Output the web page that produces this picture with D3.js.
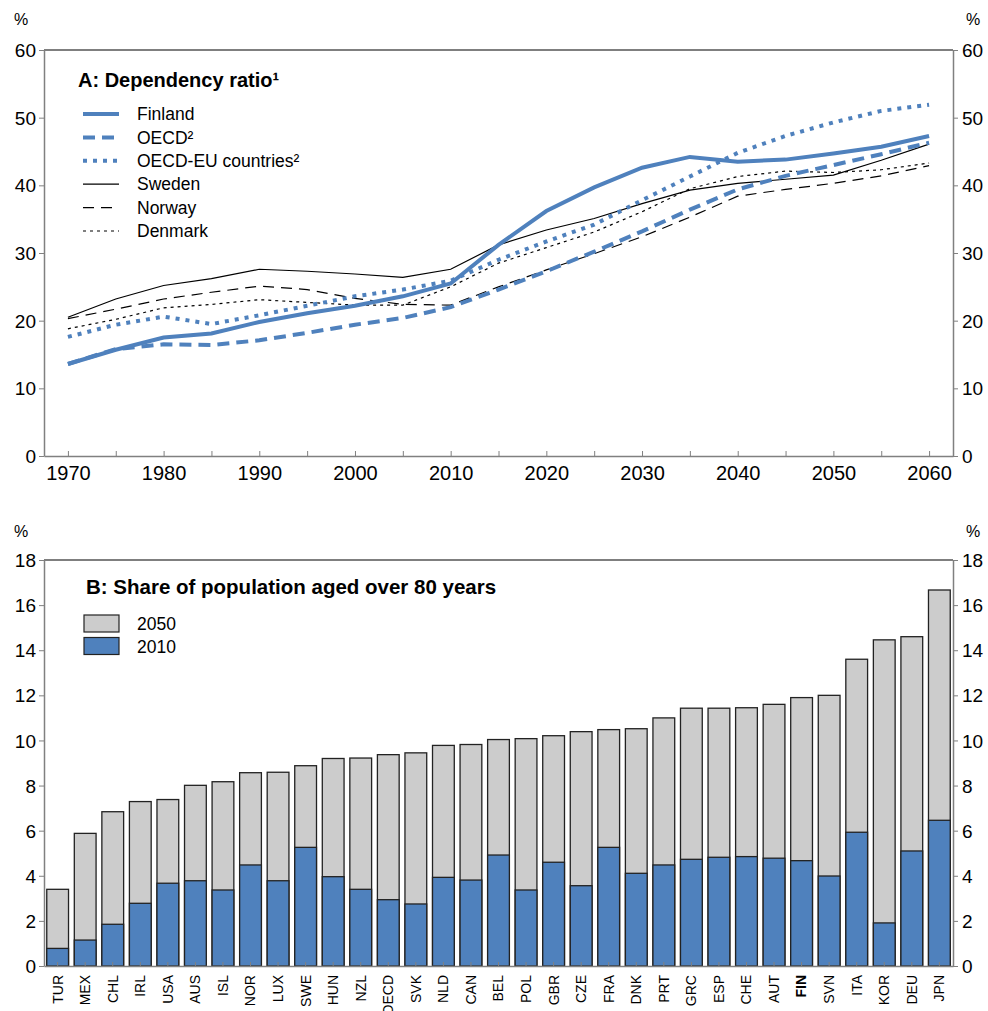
<!DOCTYPE html>
<meta charset="utf-8">
<style>
body { margin: 0; background: #fff; }
svg { font-family: "Liberation Sans", Arial, sans-serif; }
.axis path { stroke: #808080; stroke-width: 1.5px; }
.axis line { stroke: #808080; }
.axis text { fill: #000; }
</style>
<svg width="988" height="1011"></svg>
<script src="https://d3js.org/d3.v7.min.js"></script>
<script>
// panel A data: dependency ratio, every 5 years
var years = [1970, 1975, 1980, 1985, 1990, 1995, 2000, 2005, 2010, 2015, 2020, 2025, 2030, 2035, 2040, 2045, 2050, 2055, 2060];
var finland = [13.6, 15.7, 17.5, 18.1, 19.8, 21.1, 22.2, 23.6, 25.5, 31.2, 36.2, 39.7, 42.6, 44.2, 43.5, 43.8, 44.7, 45.7, 47.3];
var oecd = [13.6, 15.8, 16.5, 16.4, 17.1, 18.2, 19.4, 20.4, 22.0, 24.6, 27.3, 30.2, 33.2, 36.4, 39.4, 41.4, 43.0, 44.6, 46.3];
var oecdEu = [17.6, 19.4, 20.6, 19.5, 20.8, 22.2, 23.6, 24.6, 25.9, 29.0, 31.7, 34.2, 37.8, 41.3, 44.8, 47.3, 49.3, 51.0, 51.9];
var sweden = [20.5, 23.2, 25.2, 26.2, 27.6, 27.3, 26.9, 26.4, 27.6, 31.2, 33.4, 35.1, 37.3, 39.3, 40.3, 40.9, 41.5, 43.7, 46.1];
var norway = [20.3, 21.7, 23.2, 24.2, 25.1, 24.6, 23.3, 22.4, 22.3, 25.0, 27.5, 29.9, 32.4, 35.3, 38.4, 39.4, 40.3, 41.4, 42.9];
var denmark = [18.8, 20.2, 21.9, 22.4, 23.1, 22.7, 22.3, 22.3, 25.0, 28.5, 30.8, 33.1, 36.1, 39.5, 41.3, 42.1, 41.9, 42.3, 43.3];

// panel B data: share of population aged over 80
var countries = ["TUR", "MEX", "CHL", "IRL", "USA", "AUS", "ISL", "NOR", "LUX", "SWE", "HUN", "NZL", "OECD", "SVK", "NLD", "CAN", "BEL", "POL", "GBR", "CZE", "FRA", "DNK", "PRT", "GRC", "ESP", "CHE", "AUT", "FIN", "SVN", "ITA", "KOR", "DEU", "JPN"];
var share2050 = [3.4, 5.88, 6.84, 7.29, 7.38, 8.01, 8.17, 8.57, 8.59, 8.88, 9.2, 9.22, 9.37, 9.45, 9.78, 9.82, 10.04, 10.08, 10.21, 10.39, 10.48, 10.52, 11.0, 11.43, 11.43, 11.45, 11.6, 11.9, 12.0, 13.6, 14.46, 14.6, 16.67];
var share2010 = [0.78, 1.15, 1.85, 2.78, 3.67, 3.78, 3.37, 4.48, 3.78, 5.26, 3.96, 3.4, 2.94, 2.75, 3.93, 3.81, 4.92, 3.37, 4.6, 3.56, 5.26, 4.11, 4.48, 4.73, 4.82, 4.85, 4.78, 4.67, 3.99, 5.93, 1.91, 5.1, 6.46];

var blue = "#4f81bd", grey = "#cccccc";
var svg = d3.select("svg");

var seriesA = [
  {name: "Finland", values: finland, color: blue, width: 4, dash: null},
  {name: "OECD²", values: oecd, color: blue, width: 4, dash: "12,7"},
  {name: "OECD-EU countries²", values: oecdEu, color: blue, width: 4, dash: "4,6"},
  {name: "Sweden", values: sweden, color: "#000", width: 1.2, dash: null},
  {name: "Norway", values: norway, color: "#000", width: 1.2, dash: "11,7"},
  {name: "Denmark", values: denmark, color: "#000", width: 1.2, dash: "3,4"}
];

var left = 44, right = 953;

// ---------- panel A ----------
var aTop = 50, aBottom = 456;
var x = d3.scaleLinear().domain([1967.5, 2062.5]).range([left, right]);
var yA = d3.scaleLinear().domain([0, 60]).range([aBottom, aTop]);

var gA = svg.append("g");
gA.append("line").attr("x1", left).attr("x2", right).attr("y1", aTop).attr("y2", aTop)
    .attr("stroke", "#000").attr("stroke-width", 1.2);

gA.append("g").attr("class", "axis").attr("transform", "translate(0," + aBottom + ")")
    .call(d3.axisBottom(x).tickValues(d3.range(1970, 2061, 5)).tickSizeInner(-5).tickSizeOuter(0)
      .tickFormat(function(d) { return d % 10 === 0 ? d : ""; }))
    .call(function(g) { g.selectAll("text").attr("dy", null).attr("y", 24).style("font-size", "20px"); });

gA.append("g").attr("class", "axis").attr("transform", "translate(" + left + ",0)")
    .call(d3.axisLeft(yA).ticks(6).tickSizeInner(5).tickSizeOuter(0))
    .call(function(g) { g.selectAll("text").attr("x", -8).attr("dy", "0.35em").style("font-size", "19px"); });
gA.append("g").attr("class", "axis").attr("transform", "translate(" + right + ",0)")
    .call(d3.axisRight(yA).ticks(6).tickSizeInner(5).tickSizeOuter(0))
    .call(function(g) { g.selectAll("text").attr("x", 9).attr("dy", "0.35em").style("font-size", "19px"); });

svg.append("text").attr("x", 14).attr("y", 25).text("%").style("font-size", "16px");
svg.append("text").attr("x", 966).attr("y", 25).text("%").style("font-size", "16px");

var line = d3.line().x(function(d, i) { return x(years[i]); }).y(function(d) { return yA(d); });

gA.selectAll(".series").data(seriesA.slice().reverse()).enter().append("path")
    .attr("class", "series")
    .attr("d", function(d) { return line(d.values); })
    .attr("fill", "none")
    .attr("stroke", function(d) { return d.color; })
    .attr("stroke-width", function(d) { return d.width; })
    .attr("stroke-dasharray", function(d) { return d.dash; });

gA.append("text").attr("x", 78).attr("y", 87).text("A: Dependency ratio¹")
    .style("font-size", "20px").style("font-weight", "bold");

var legA = gA.selectAll(".legA").data(seriesA).enter().append("g")
    .attr("transform", function(d, i) { return "translate(0," + (114 + i * 23.4) + ")"; });
legA.append("line").attr("x1", 83).attr("x2", 119)
    .attr("stroke", function(d) { return d.color; })
    .attr("stroke-width", function(d) { return d.width; })
    .attr("stroke-dasharray", function(d) { return d.dash; });
legA.append("text").attr("x", 137).attr("dy", "0.35em").text(function(d) { return d.name; })
    .style("font-size", "17.5px");

// ---------- panel B ----------
var bTop = 560, bBottom = 966;
var xB = d3.scaleBand().domain(countries).range([left, right]).paddingInner(0.21).paddingOuter(0.1);
var yB = d3.scaleLinear().domain([0, 18]).range([bBottom, bTop]);

var gB = svg.append("g");
gB.append("line").attr("x1", left).attr("x2", right).attr("y1", bTop).attr("y2", bTop)
    .attr("stroke", "#000").attr("stroke-width", 1.2);

var bars = gB.selectAll(".bar").data(countries).enter().append("g");
bars.append("rect")
    .attr("x", function(d) { return xB(d); })
    .attr("width", xB.bandwidth())
    .attr("y", function(d, i) { return yB(share2050[i]); })
    .attr("height", function(d, i) { return yB(0) - yB(share2050[i]); })
    .attr("fill", grey).attr("stroke", "#222").attr("stroke-width", 1.3);
bars.append("rect")
    .attr("x", function(d) { return xB(d); })
    .attr("width", xB.bandwidth())
    .attr("y", function(d, i) { return yB(share2010[i]); })
    .attr("height", function(d, i) { return yB(0) - yB(share2010[i]); })
    .attr("fill", blue).attr("stroke", "#222").attr("stroke-width", 1.3);

gB.append("g").attr("class", "axis").attr("transform", "translate(0," + bBottom + ")")
    .call(d3.axisBottom(xB).tickSizeInner(-4).tickSizeOuter(0))
    .call(function(g) {
      g.selectAll("text")
        .attr("transform", "rotate(-90)")
        .attr("x", -9).attr("y", 0).attr("dy", "0.35em")
        .style("text-anchor", "end").style("font-size", "14px")
        .style("font-weight", function(d) { return d === "FIN" ? "bold" : null; });
    });

gB.append("g").attr("class", "axis").attr("transform", "translate(" + left + ",0)")
    .call(d3.axisLeft(yB).tickValues(d3.range(0, 19, 2)).tickSizeInner(5).tickSizeOuter(0))
    .call(function(g) { g.selectAll("text").attr("x", -8).attr("dy", "0.35em").style("font-size", "19px"); });
gB.append("g").attr("class", "axis").attr("transform", "translate(" + right + ",0)")
    .call(d3.axisRight(yB).tickValues(d3.range(0, 19, 2)).tickSizeInner(5).tickSizeOuter(0))
    .call(function(g) { g.selectAll("text").attr("x", 9).attr("dy", "0.35em").style("font-size", "19px"); });

svg.append("text").attr("x", 14).attr("y", 537).text("%").style("font-size", "16px");
svg.append("text").attr("x", 966).attr("y", 537).text("%").style("font-size", "16px");

gB.append("text").attr("x", 86).attr("y", 594).text("B: Share of population aged over 80 years")
    .style("font-size", "20.5px").style("font-weight", "bold");

var legB = gB.selectAll(".legB").data([{name: "2050", color: grey}, {name: "2010", color: blue}]).enter().append("g")
    .attr("transform", function(d, i) { return "translate(0," + (615 + i * 22.5) + ")"; });
legB.append("rect").attr("x", 84).attr("width", 35).attr("height", 17)
    .attr("fill", function(d) { return d.color; }).attr("stroke", "#222").attr("stroke-width", 1.2);
legB.append("text").attr("x", 137).attr("y", 9).attr("dy", "0.35em").text(function(d) { return d.name; })
    .style("font-size", "17.5px");
</script>
